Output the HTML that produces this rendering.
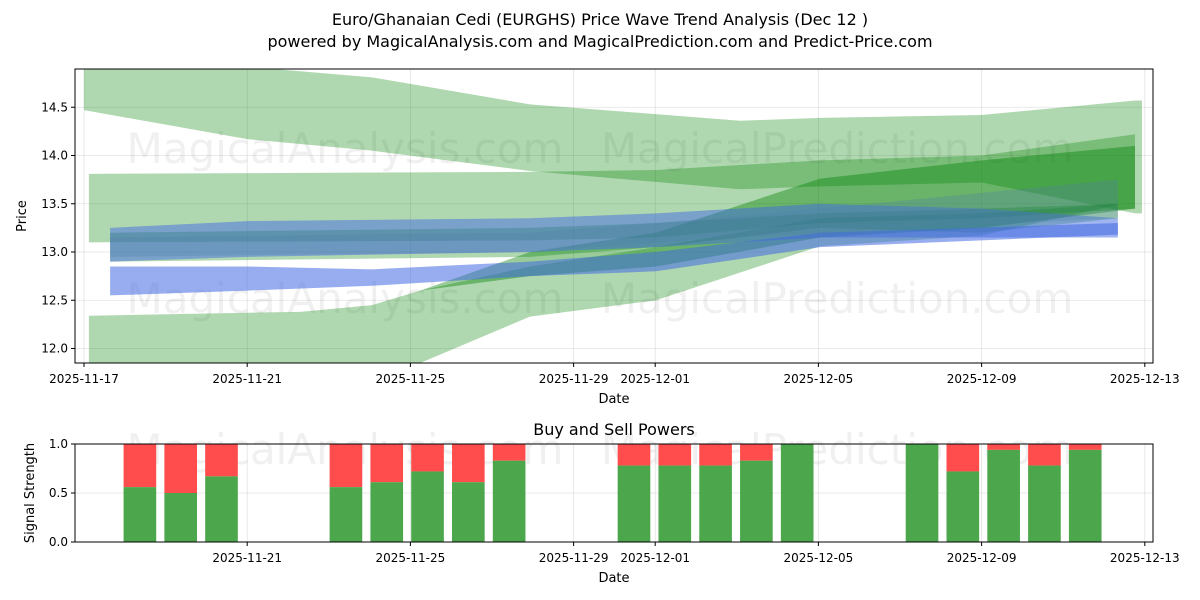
<!DOCTYPE html>
<html><head><meta charset="utf-8"><style>
body{margin:0;background:#fff;}
svg{display:block;font-family:"DejaVu Sans","Liberation Sans",sans-serif;}
</style></head><body>
<svg id="chart" width="1200" height="600" xmlns="http://www.w3.org/2000/svg">
<rect width="1200" height="600" fill="#fff"/>
<text x="600" y="25" text-anchor="middle" font-size="16">Euro/Ghanaian Cedi (EURGHS) Price Wave Trend Analysis (Dec 12 )</text>
<text x="600" y="47" text-anchor="middle" font-size="16">powered by MagicalAnalysis.com and MagicalPrediction.com and Predict-Price.com</text>
<g id="topPanel"></g>
<g id="botPanel"></g>
</svg>
<script>
// ---- data ----
const xTickLabelsTop = ["2025-11-17","2025-11-21","2025-11-25","2025-11-29","2025-12-01","2025-12-05","2025-12-09","2025-12-13"];
const xTickDaysTop = [0,4,8,12,14,18,22,26];
const xTickLabelsBot = ["2025-11-21","2025-11-25","2025-11-29","2025-12-01","2025-12-05","2025-12-09","2025-12-13"];
const xTickDaysBot = [4,8,12,14,18,22,26];
const yTicksTop = [12.0,12.5,13.0,13.5,14.0,14.5];
const yTicksBot = [0.0,0.5,1.0];
const bandNames = ["band-a","band-b","band-c","band-d","band-e","band-f","band-g","band-h"];
const bandColors = ["green","green","green","green","green","blue","blue","teal"];
const bandDays = [
 [0,4,7.06,10.93,16.08,18.04,22,25.76,25.93],
 [0.12,10.93,14.02,18.04,22,25.76],
 [0.12,5.3,7.06,8.24,10.93,14.02,18.04,22,25.34],
 [8.24,10.93,14.02,18.04,22,25.76],
 [0.64,10.93,14.02,18.04,22,25.34],
 [0.64,4,10.93,14.02,18.04,22,25.34],
 [0.64,4,7.06,10.93,14.02,18.04,25.34],
 [0.64,10.93,14.02,18.04,25.34]
];
const bandUpper = [
 [14.95,14.92,14.81,14.53,14.36,14.39,14.42,14.57,14.57],
 [13.81,13.83,13.85,13.95,14.0,14.22],
 [12.34,12.38,12.45,12.6,12.85,13.05,13.35,13.4,13.5],
 [12.6,13.0,13.2,13.76,13.95,14.1],
 [13.2,13.25,13.3,13.4,13.45,13.5],
 [13.25,13.32,13.35,13.4,13.5,13.45,13.35],
 [12.85,12.85,12.82,12.9,13.0,13.2,13.3],
 [13.15,13.2,13.3,13.45,13.75]
];
const bandLower = [
 [14.47,14.17,14.05,13.84,13.65,13.68,13.72,13.4,13.4],
 [13.1,13.12,13.15,13.3,13.35,13.45],
 [11.6,11.6,11.7,11.85,12.33,12.5,13.06,13.17,13.49],
 [12.6,12.75,12.85,13.15,13.25,13.45],
 [12.9,12.95,13.05,13.25,13.2,13.35],
 [12.9,12.95,13.0,13.05,13.15,13.15,13.15],
 [12.55,12.6,12.65,12.75,12.8,13.05,13.18],
 [12.95,13.0,13.1,13.2,13.35]
];
const barDays = [1.37,2.37,3.37,6.42,7.42,8.42,9.42,10.42,13.48,14.48,15.48,16.48,17.48,20.54,21.54,22.54,23.54,24.54];
const buyValues = [0.56,0.5,0.67,0.56,0.61,0.72,0.61,0.83,0.78,0.78,0.78,0.83,1.0,1.0,0.72,0.94,0.78,0.94];

// ---- scales ----
const L=75,R=1153;
const xs=d=>84+d*40.8;
const yTop=v=>252-(v-13.0)*96.5;
const T0=69,T1=363,B0=444,B1=542;
const yBot=v=>B1-v*(B1-B0);
const NS="http://www.w3.org/2000/svg";
function mk(tag,attrs,parent,text){const e=document.createElementNS(NS,tag);for(const k in attrs)e.setAttribute(k,attrs[k]);if(text!==undefined)e.textContent=text;parent.appendChild(e);return e;}
const svgEl=document.getElementById('chart');
const defs=mk('defs',{},svgEl);
const cp=mk('clipPath',{id:'clipTop'},defs);mk('rect',{x:L,y:T0,width:R-L,height:T1-T0},cp);
const topG=document.getElementById('topPanel'),botG=document.getElementById('botPanel');

xTickDaysTop.forEach((d,i)=>{
 const g=mk('line',{x1:xs(d),x2:xs(d),y1:T0,y2:T1,stroke:'#b0b0b0','stroke-opacity':0.35,'stroke-width':0.8},topG);
 
 
});
yTicksTop.forEach(v=>{
 const g=mk('line',{x1:L,x2:R,y1:yTop(v),y2:yTop(v),stroke:'#b0b0b0','stroke-opacity':0.35,'stroke-width':0.8},topG);
 
 
});
[[345,148,'MagicalAnalysis.com'],[837,148,'MagicalPrediction.com'],[345,298,'MagicalAnalysis.com'],[837,298,'MagicalPrediction.com']].forEach(w=>{
 const t=mk('text',{x:w[0],y:w[1]+15,'text-anchor':'middle','font-size':42,fill:'#000','fill-opacity':0.06},topG,w[2]);
 
 
});
const bandG=mk('g',{'clip-path':'url(#clipTop)'},topG);
const colMap={green:['rgb(0,128,0)',0.31],blue:['rgb(65,105,225)',0.5],teal:['rgb(80,130,170)',0.3]};
bandDays.forEach((days,i)=>{
 let pts=days.map((d,j)=>xs(d)+','+yTop(bandUpper[i][j]));
 for(let j=days.length-1;j>=0;j--)pts.push(xs(days[j])+','+yTop(bandLower[i][j]));
 const c=colMap[bandColors[i]];
 const p=mk('polygon',{points:pts.join(' '),fill:c[0],'fill-opacity':(i===3?0.4:(i===6?0.55:c[1]))},bandG);
 
 
});
mk('rect',{x:L,y:T0,width:R-L,height:T1-T0,fill:'none',stroke:'#000','stroke-width':1},topG);
xTickDaysTop.forEach((d,i)=>{
 mk('line',{x1:xs(d),x2:xs(d),y1:T1,y2:T1+4,stroke:'#000'},topG);
 const t=mk('text',{x:xs(d),y:T1+20,'text-anchor':'middle','font-size':12},topG,xTickLabelsTop[i]);
 
 
});
yTicksTop.forEach(v=>{
 mk('line',{x1:L-4,x2:L,y1:yTop(v),y2:yTop(v),stroke:'#000'},topG);
 const t=mk('text',{x:L-7,y:yTop(v)+4,'text-anchor':'end','font-size':12},topG,v.toFixed(1));
 
 
});
let tt=mk('text',{x:614,y:403,'text-anchor':'middle','font-size':13},topG,'Date');


tt=mk('text',{x:26,y:216,'text-anchor':'middle','font-size':13,transform:'rotate(-90 26 216)'},topG,'Price');



// ---- bottom ----
tt=mk('text',{x:614,y:435,'text-anchor':'middle','font-size':16},botG,'Buy and Sell Powers');


xTickDaysBot.forEach(d=>{
 const g=mk('line',{x1:xs(d),x2:xs(d),y1:B0,y2:B1,stroke:'#b0b0b0','stroke-opacity':0.35,'stroke-width':0.8},botG);
 
 
});
yTicksBot.forEach(v=>{
 const g=mk('line',{x1:L,x2:R,y1:yBot(v),y2:yBot(v),stroke:'#b0b0b0','stroke-opacity':0.35,'stroke-width':0.8},botG);
 
 
});
[[345,449,'MagicalAnalysis.com'],[837,449,'MagicalPrediction.com']].forEach(w=>{
 const t=mk('text',{x:w[0],y:w[1]+15,'text-anchor':'middle','font-size':42,fill:'#000','fill-opacity':0.06},botG,w[2]);
 
 
});
const bw=0.8*40.8;
barDays.forEach((d,i)=>{
 const cx=xs(d);
 const v=buyValues[i];
 const r=mk('rect',{x:cx-bw/2,y:yBot(1),width:bw,height:yBot(v)-yBot(1),fill:'#ff4d4d'},botG);
 
 
 const g=mk('rect',{x:cx-bw/2,y:yBot(v),width:bw,height:yBot(0)-yBot(v),fill:'#4ca64c'},botG);
 
 
});
mk('rect',{x:L,y:B0,width:R-L,height:B1-B0,fill:'none',stroke:'#000','stroke-width':1},botG);
xTickDaysBot.forEach((d,i)=>{
 mk('line',{x1:xs(d),x2:xs(d),y1:B1,y2:B1+4,stroke:'#000'},botG);
 const t=mk('text',{x:xs(d),y:B1+20,'text-anchor':'middle','font-size':12},botG,xTickLabelsBot[i]);
 
 
});
yTicksBot.forEach(v=>{
 mk('line',{x1:L-4,x2:L,y1:yBot(v),y2:yBot(v),stroke:'#000'},botG);
 const t=mk('text',{x:L-7,y:yBot(v)+4,'text-anchor':'end','font-size':12},botG,v.toFixed(1));
 
 
});
tt=mk('text',{x:614,y:582,'text-anchor':'middle','font-size':13},botG,'Date');


tt=mk('text',{x:34,y:493,'text-anchor':'middle','font-size':13,transform:'rotate(-90 34 493)'},botG,'Signal Strength');


</script>
</body></html>
